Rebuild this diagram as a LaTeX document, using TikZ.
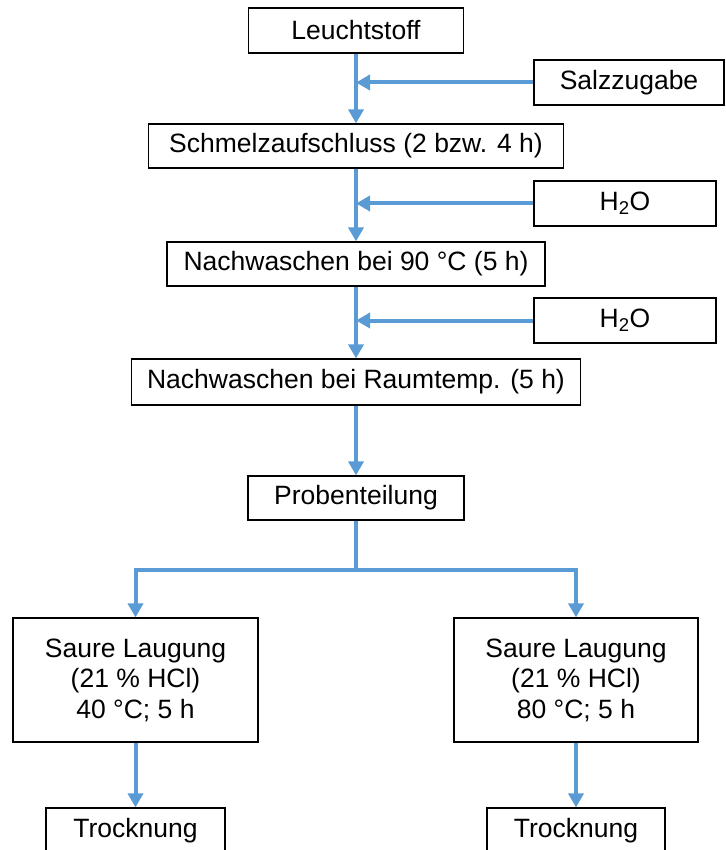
\documentclass[tikz,border=0pt]{standalone}
\usepackage{fontspec}
\setmainfont{Liberation Sans}
\usepackage{xcolor}
\usetikzlibrary{arrows.meta,positioning,calc}
\definecolor{flowblue}{RGB}{91,155,213}
\tikzset{box/.style={draw=black,line width=1.2pt,fill=white,inner sep=0pt,align=center,font=\fontsize{26.5}{30.5}\selectfont}}
\tikzset{flow/.style={draw=flowblue,line width=4pt,-{Triangle[width=15pt,length=14pt]}}}

\begin{document}
\begin{tikzpicture}[x=1pt,y=-1pt]
        \useasboundingbox (0,0) rectangle (725,850);
        % main column
        \node[box,minimum width=215pt,minimum height=45pt] (leucht) at (356,30.5) {Leuchtstoff};
        \node[box,minimum width=415pt,minimum height=44pt] (schmelz) at (356,146) {Schmelzaufschluss (2 bzw. 4 h)};
        \node[box,minimum width=378pt,minimum height=44pt] (nach90) at (356,264) {Nachwaschen bei 90 °C (5 h)};
        \node[box,minimum width=449pt,minimum height=46pt] (nachRT) at (356,382) {Nachwaschen bei Raumtemp. (5 h)};
        \node[box,minimum width=216pt,minimum height=44pt] (prob) at (356,498) {Probenteilung};
        % additions
        \node[box,minimum width=190pt,minimum height=45pt] (salz) at (629,82.5) {Salzzugabe};
        \node[box,minimum width=182pt,minimum height=45pt] (wasserA) at (625,203.5) {H\textsubscript{2}O};
        \node[box,minimum width=182pt,minimum height=45pt] (wasserB) at (625,320.5) {H\textsubscript{2}O};
        % branches
        \node[box,minimum width=245pt,minimum height=124pt] (saureA) at (135.5,680) {Saure Laugung\\(21 \% HCl)\\40 °C; 5 h};
        \node[box,minimum width=244pt,minimum height=124pt] (saureB) at (576,680) {Saure Laugung\\(21 \% HCl)\\80 °C; 5 h};
        \node[box,minimum width=179pt,minimum height=45pt] (trockA) at (135.5,830.5) {Trocknung};
        \node[box,minimum width=178pt,minimum height=45pt] (trockB) at (576,830.5) {Trocknung};
        \coordinate (split) at (356,570);
        % connectors
        \draw[flow] (salz.west) -- (salz.west -| leucht.south);
        \draw[flow] (wasserA.west) -- (wasserA.west -| schmelz.south);
        \draw[flow] (wasserB.west) -- (wasserB.west -| nach90.south);
        \draw[flow] (leucht.south) -- (schmelz.north);
        \draw[flow] (schmelz.south) -- (nach90.north);
        \draw[flow] (nach90.south) -- (nachRT.north);
        \draw[flow] (nachRT.south) -- (prob.north);
        \draw[flow] (prob.south) -- (split) -| (saureA.north);
        \draw[flow] (split) -| (saureB.north);
        \draw[flow] (saureA.south) -- (trockA.north);
        \draw[flow] (saureB.south) -- (trockB.north);
\end{tikzpicture}
\end{document}
